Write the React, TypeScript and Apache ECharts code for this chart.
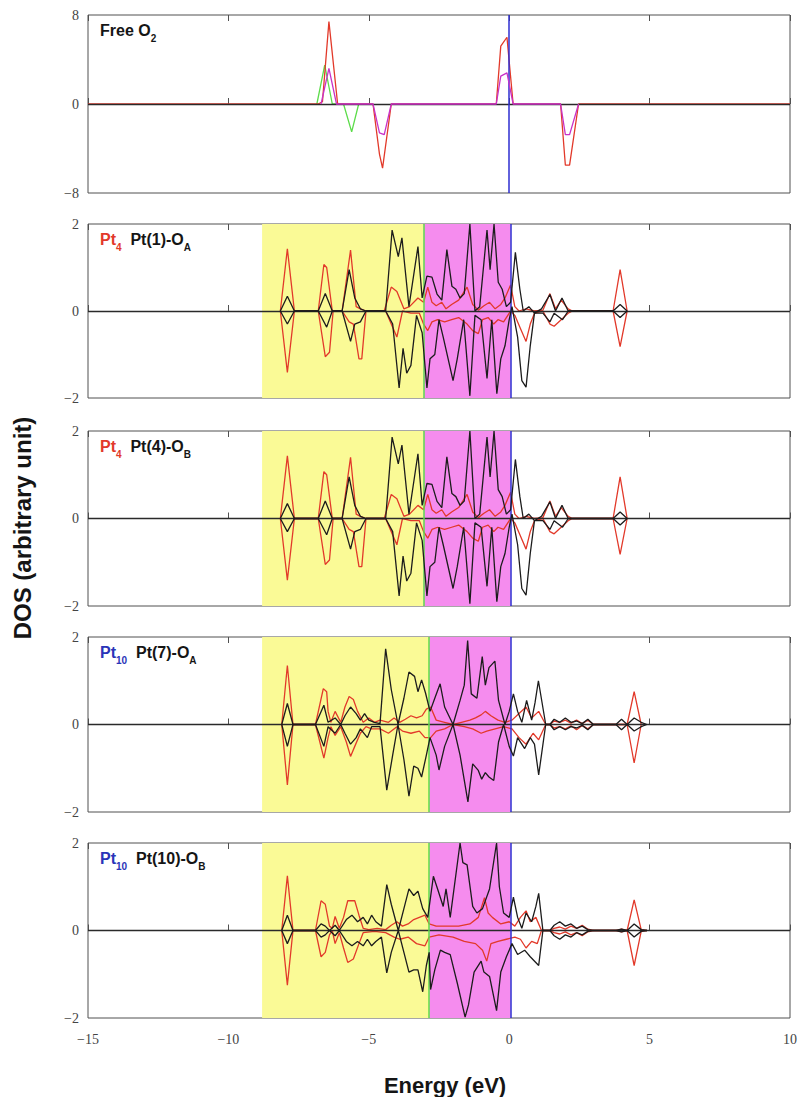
import React, { useEffect, useRef } from "react";
import * as echarts from "echarts";

// ---------- data ----------
const xTicks = [-15, -10, -5, 0, 5, 10];
const panelTops = [15, 224, 431, 637, 843];
const panelHeights = [178, 174, 175, 175, 175];
const yLimits = [8, 2, 2, 2, 2];

// band edges (eV): yellow start, yellow/magenta boundary, Fermi level
const bandStart = [null, -8.8, -8.8, -8.8, -8.8];
const bandMid = [null, -3.05, -3.05, -2.85, -2.85];
const fermiLine = [0, 0.05, 0.05, 0.05, 0.05];

// Free O2
const o2Red = [[-15,0],[-6.8,0],[-6.65,0.2],[-6.42,7.4],[-6.11,0],[-4.85,0],[-4.62,-4.5],[-4.51,-5.76],[-4.2,0],[-0.46,0],[-0.3,5.2],[-0.08,6.0],[0.14,0],[1.83,0],[2.0,-5.5],[2.15,-5.5],[2.47,0],[10,0]];
const o2Green = [[-6.85,0],[-6.57,3.5],[-6.3,0],[-5.9,0],[-5.61,-2.5],[-5.36,0]];
const o2Magenta = [[-6.7,0],[-6.42,3.2],[-6.15,0],[-4.85,0],[-4.62,-2.6],[-4.45,-2.75],[-4.2,0],[-0.46,0],[-0.3,2.5],[-0.08,2.8],[0.14,0],[1.83,0],[2.0,-2.75],[2.15,-2.75],[2.47,0]];

// Pt4 Pt(1)-OA
const p2RedUp = [[-8.15,0],[-7.9,1.43],[-7.65,0],[-6.8,0],[-6.6,1.07],[-6.5,1.0],[-6.3,0],[-5.95,0],[-5.65,1.4],[-5.45,0.1],[-5.3,0.05],[-5.1,0],[-4.45,0],[-4.2,0.55],[-4.0,0.45],[-3.75,0.05],[-3.55,0.1],[-3.25,0.3],[-3.05,0.2],[-2.9,0.55],[-2.75,0.2],[-2.6,0.12],[-2.4,0.2],[-2.25,0.05],[-2.05,0.15],[-1.8,0.25],[-1.5,0.55],[-1.3,0.15],[-1.1,0.02],[-0.9,0.12],[-0.7,0.2],[-0.5,0.05],[-0.3,0.15],[-0.15,0.3],[0.05,0.6],[0.2,0.1],[0.35,0],[0.6,0.05],[0.9,0],[1.2,0.02],[1.45,0.4],[1.65,0.05],[1.85,0.25],[2.1,0.05],[2.25,0],[3.7,0],[3.95,0.95],[4.2,0]];
const p2RedDown = [[-8.15,0],[-7.9,-1.41],[-7.65,0],[-6.8,0],[-6.55,-1.05],[-6.4,-0.95],[-6.27,0],[-5.95,0],[-5.7,-0.25],[-5.55,-0.3],[-5.35,-1.1],[-5.25,-1.1],[-5.1,0],[-4.4,0],[-4.2,-0.3],[-4.0,-0.6],[-3.8,0],[-3.5,-0.05],[-3.2,-0.05],[-3.05,-0.3],[-2.9,-0.45],[-2.75,-0.25],[-2.55,-0.2],[-2.3,-0.25],[-2.05,-0.2],[-1.8,-0.15],[-1.5,-0.3],[-1.3,-0.45],[-1.1,-0.52],[-0.95,-0.2],[-0.75,-0.15],[-0.55,-0.3],[-0.4,-0.2],[-0.2,-0.25],[0.05,0],[0.2,-0.1],[0.4,-0.4],[0.6,-0.7],[0.75,-0.3],[0.9,-0.05],[1.2,0],[1.45,-0.3],[1.6,-0.35],[1.85,-0.2],[2.1,-0.05],[2.25,0],[3.7,0],[3.95,-0.82],[4.2,0]];
const p2BlackUp = [[-8.15,0],[-7.9,0.34],[-7.65,0],[-6.8,0],[-6.55,0.4],[-6.3,0],[-5.95,0],[-5.7,0.95],[-5.5,0.3],[-5.3,0.05],[-5.1,0],[-4.4,0],[-4.17,1.86],[-3.95,1.25],[-3.82,1.68],[-3.57,0.1],[-3.25,1.48],[-3.1,0.3],[-2.93,0.8],[-2.75,0.78],[-2.57,0.39],[-2.4,0.25],[-2.22,1.41],[-2.04,0.57],[-1.9,0.5],[-1.75,0.3],[-1.6,0.4],[-1.4,2.0],[-1.22,0],[-1.05,0.1],[-0.79,1.86],[-0.68,0.95],[-0.54,2.0],[-0.39,0.66],[-0.25,0.5],[-0.1,0.1],[0.05,0.2],[0.22,1.35],[0.38,0.5],[0.5,0],[0.7,0.1],[0.9,-0.05],[1.15,0.05],[1.45,0.38],[1.65,0],[1.88,0.3],[2.1,0],[2.25,0],[3.7,0],[3.95,0.15],[4.2,0]];
const p2BlackDown = [[-8.15,0],[-7.9,-0.3],[-7.65,0],[-6.8,0],[-6.5,-0.37],[-6.3,0],[-5.95,0],[-5.65,-0.7],[-5.5,-0.3],[-5.3,-0.25],[-5.1,0],[-4.4,0],[-4.15,-0.3],[-3.92,-1.77],[-3.78,-0.86],[-3.65,-1.43],[-3.5,-1.25],[-3.3,-0.1],[-3.1,-0.5],[-2.93,-1.77],[-2.82,-1.1],[-2.65,-1.0],[-2.5,-0.2],[-2.35,-0.6],[-2.0,-1.6],[-1.85,-1.1],[-1.62,-0.2],[-1.4,-1.95],[-1.22,-0.1],[-1.0,-0.2],[-0.79,-1.55],[-0.62,-0.2],[-0.44,-1.9],[-0.3,-1.1],[-0.15,-0.8],[0.0,-0.2],[0.1,0.1],[0.3,-0.6],[0.45,-1.6],[0.6,-1.75],[0.75,-0.8],[0.9,-0.05],[1.2,-0.05],[1.45,-0.25],[1.6,-0.05],[1.9,-0.2],[2.1,0],[2.25,0],[3.7,0],[3.95,-0.15],[4.2,0]];

// Pt4 Pt(4)-OB (nearly identical to Pt(1)-OA)
const p3RedUp = p2RedUp;
const p3RedDown = p2RedDown;
const p3BlackUp = p2BlackUp;
const p3BlackDown = p2BlackDown;

// Pt10 Pt(7)-OA
const p4RedUp = [[-8.1,0],[-7.9,1.35],[-7.7,0],[-6.9,0],[-6.62,0.82],[-6.5,0.75],[-6.45,0.3],[-6.35,0.05],[-6.2,0.3],[-6.0,0.05],[-5.85,0.4],[-5.7,0.64],[-5.55,0.57],[-5.4,0.3],[-5.2,0.05],[-5.0,0.15],[-4.8,0.05],[-4.6,0.1],[-4.3,0.05],[-4.1,0.15],[-3.9,0.05],[-3.7,0.12],[-3.5,0.2],[-3.3,0.15],[-3.1,0.2],[-2.95,0.35],[-2.8,0.4],[-2.6,0.1],[-2.3,0.05],[-2.0,0],[-1.7,0.05],[-1.4,0.1],[-1.2,0.15],[-1.0,0.22],[-0.85,0.3],[-0.65,0.2],[-0.4,0.1],[-0.15,0.05],[0.1,0.1],[0.35,0.25],[0.6,0.4],[0.8,0.15],[1.05,0.3],[1.3,0],[1.45,0],[1.6,0.08],[1.8,0.05],[2.0,0.1],[2.2,0.03],[2.4,0.1],[2.6,0.02],[2.8,0.1],[3.0,0],[4.2,0],[4.45,0.75],[4.7,0]];
const p4RedDown = [[-8.1,0],[-7.9,-1.38],[-7.7,0],[-6.9,0],[-6.6,-0.77],[-6.45,-0.3],[-6.35,-0.05],[-6.2,-0.25],[-6.0,-0.05],[-5.8,-0.4],[-5.65,-0.73],[-5.5,-0.5],[-5.3,-0.2],[-5.1,-0.05],[-4.9,-0.1],[-4.6,-0.1],[-4.3,-0.2],[-4.0,-0.05],[-3.8,-0.15],[-3.5,-0.2],[-3.2,-0.15],[-3.0,-0.3],[-2.8,-0.3],[-2.6,-0.15],[-2.3,-0.1],[-2.0,0],[-1.6,-0.05],[-1.3,-0.1],[-1.0,-0.2],[-0.8,-0.15],[-0.5,-0.1],[-0.2,-0.05],[0.1,-0.1],[0.35,-0.3],[0.6,-0.45],[0.85,-0.2],[1.05,-0.35],[1.3,0],[1.45,0],[1.6,-0.08],[1.8,-0.05],[2.0,-0.1],[2.2,-0.03],[2.4,-0.12],[2.6,-0.02],[2.8,-0.1],[3.0,0],[4.2,0],[4.45,-0.88],[4.7,0]];
const p4BlackUp = [[-8.1,0],[-7.9,0.48],[-7.7,0],[-6.9,0],[-6.6,0.44],[-6.45,0.05],[-6.2,0.15],[-6.0,0],[-5.85,0.2],[-5.65,0.4],[-5.45,0.25],[-5.3,0.1],[-5.15,0.25],[-5.0,0.1],[-4.8,0.05],[-4.6,0.02],[-4.4,1.73],[-4.2,0.8],[-3.96,0],[-3.75,0.6],[-3.57,1.2],[-3.37,1.1],[-3.25,0.75],[-3.12,1.02],[-2.98,0.72],[-2.82,0.3],[-2.65,0.6],[-2.46,0.93],[-2.3,0.4],[-2.0,0],[-1.75,0.55],[-1.6,0.9],[-1.48,1.92],[-1.35,0.7],[-1.15,0.6],[-0.96,1.55],[-0.85,0.9],[-0.72,1.3],[-0.51,1.45],[-0.38,0.55],[-0.15,0],[0.0,0.3],[0.15,0.7],[0.3,0.3],[0.45,0.05],[0.62,0.55],[0.8,0.1],[0.92,0.5],[1.04,1.0],[1.3,0],[1.45,0],[1.6,0.12],[1.8,0.05],[2.0,0.15],[2.2,0.05],[2.4,0.08],[2.6,0.02],[2.8,0.12],[3.0,0],[3.8,0],[4.0,0.12],[4.2,0],[4.45,0.15],[4.7,0.05],[4.9,0]];
const p4BlackDown = [[-8.1,0],[-7.9,-0.5],[-7.7,0],[-6.9,0],[-6.6,-0.5],[-6.45,-0.05],[-6.2,-0.2],[-6.0,0],[-5.85,-0.2],[-5.65,-0.45],[-5.45,-0.3],[-5.3,-0.1],[-5.05,-0.3],[-4.9,-0.05],[-4.6,-0.05],[-4.36,-1.5],[-4.15,-0.7],[-3.96,0],[-3.75,-0.8],[-3.57,-1.64],[-3.4,-0.95],[-3.25,-1.0],[-3.12,-1.2],[-2.95,-0.7],[-2.82,-0.3],[-2.6,-0.7],[-2.5,-1.04],[-2.3,-0.5],[-2.0,0],[-1.75,-0.7],[-1.47,-1.77],[-1.3,-0.9],[-1.1,-1.05],[-0.98,-1.25],[-0.85,-1.1],[-0.72,-1.2],[-0.55,-1.28],[-0.38,-0.4],[-0.2,0],[0.0,-0.5],[0.15,-0.72],[0.3,-0.3],[0.55,-0.55],[0.75,-0.3],[0.9,-0.45],[1.05,-1.15],[1.3,0],[1.45,0],[1.6,-0.12],[1.8,-0.05],[2.0,-0.12],[2.2,-0.05],[2.4,-0.08],[2.6,-0.02],[2.8,-0.12],[3.0,0],[3.8,0],[4.0,-0.12],[4.2,0],[4.45,-0.15],[4.7,-0.05],[4.9,0]];

// Pt10 Pt(10)-OB
const p5RedUp = [[-8.1,0],[-7.9,1.25],[-7.7,0],[-6.9,0],[-6.7,0.68],[-6.55,0.6],[-6.4,0.1],[-6.3,0.05],[-6.2,0.32],[-6.05,0.05],[-5.9,0.3],[-5.75,0.68],[-5.5,0.68],[-5.35,0.35],[-5.2,0.05],[-5.0,0.02],[-4.7,0.05],[-4.4,0.02],[-4.2,0.12],[-4.0,0.2],[-3.8,0.1],[-3.6,0.15],[-3.4,0.25],[-3.2,0.3],[-3.0,0.35],[-2.85,0.15],[-2.6,0.1],[-2.2,0.1],[-1.8,0.1],[-1.4,0.15],[-1.1,0.3],[-0.88,0.75],[-0.75,0.4],[-0.6,0.3],[-0.3,0.15],[0.0,0.2],[0.2,0.1],[0.4,0.3],[0.6,0.45],[0.75,0.2],[0.95,0.3],[1.15,0],[1.45,0],[1.6,0.05],[1.8,0.08],[2.0,0.03],[2.2,0.1],[2.4,0.05],[2.6,0.12],[2.8,0.03],[3.0,0],[3.8,0],[4.0,0.03],[4.2,0],[4.45,0.7],[4.7,0.02],[4.9,0]];
const p5RedDown = [[-8.1,0],[-7.9,-1.25],[-7.7,0],[-6.9,0],[-6.7,-0.6],[-6.55,-0.5],[-6.4,-0.1],[-6.3,0],[-6.2,-0.3],[-6.05,-0.05],[-5.9,-0.4],[-5.75,-0.73],[-5.55,-0.65],[-5.35,-0.3],[-5.2,-0.05],[-4.8,-0.02],[-4.4,-0.05],[-4.1,-0.15],[-3.9,-0.2],[-3.6,-0.15],[-3.3,-0.3],[-3.0,-0.35],[-2.85,-0.15],[-2.5,-0.1],[-2.0,-0.15],[-1.6,-0.25],[-1.2,-0.3],[-0.95,-0.45],[-0.8,-0.7],[-0.65,-0.3],[-0.4,-0.25],[-0.1,-0.2],[0.2,-0.15],[0.4,-0.2],[0.6,-0.4],[0.8,-0.25],[1.0,-0.3],[1.15,0],[1.45,0],[1.6,-0.05],[1.8,-0.08],[2.0,-0.03],[2.2,-0.1],[2.4,-0.05],[2.6,-0.12],[2.8,-0.03],[3.0,0],[3.8,0],[4.0,-0.03],[4.2,0],[4.45,-0.8],[4.7,-0.02],[4.9,0]];
const p5BlackUp = [[-8.1,0],[-7.9,0.35],[-7.7,0],[-6.9,0],[-6.7,0.15],[-6.55,0.1],[-6.4,0],[-6.2,0.12],[-6.05,0],[-5.8,0.25],[-5.6,0.35],[-5.4,0.2],[-5.2,0.3],[-5.05,0.15],[-4.9,0.35],[-4.75,0.2],[-4.55,0.1],[-4.36,1.05],[-4.2,0.6],[-3.95,0],[-3.75,0.5],[-3.57,0.95],[-3.4,0.8],[-3.25,0.9],[-3.08,0.5],[-2.9,0.3],[-2.7,1.24],[-2.55,0.95],[-2.35,0.55],[-2.25,0.95],[-2.1,0.3],[-1.75,2.0],[-1.65,1.55],[-1.5,1.5],[-1.3,0.55],[-1.15,0.4],[-0.95,0.5],[-0.7,0.95],[-0.45,2.0],[-0.35,1.0],[-0.2,0.4],[0.0,0.3],[0.15,0.76],[0.3,0.3],[0.45,0.05],[0.6,0.4],[0.8,0.2],[0.95,0.55],[1.05,0.85],[1.2,0],[1.45,0],[1.6,0.12],[1.8,0.2],[2.0,0.1],[2.2,0.15],[2.4,0.05],[2.6,0.1],[2.8,0.02],[3.0,0],[3.8,0],[4.0,0.03],[4.2,0],[4.45,0.15],[4.7,0.02],[4.9,0]];
const p5BlackDown = [[-8.1,0],[-7.9,-0.3],[-7.7,0],[-6.9,0],[-6.7,-0.15],[-6.55,-0.1],[-6.4,0],[-6.2,-0.12],[-6.05,0],[-5.8,-0.25],[-5.6,-0.35],[-5.4,-0.25],[-5.2,-0.35],[-5.05,-0.2],[-4.9,-0.35],[-4.75,-0.25],[-4.55,-0.15],[-4.36,-0.97],[-4.2,-0.5],[-3.95,0],[-3.75,-0.5],[-3.57,-0.95],[-3.4,-0.9],[-3.25,-0.9],[-3.08,-1.4],[-2.95,-0.8],[-2.85,-0.5],[-2.8,-1.35],[-2.65,-0.9],[-2.45,-0.45],[-2.3,-0.5],[-2.1,-0.55],[-1.85,-1.2],[-1.57,-1.98],[-1.45,-1.7],[-1.25,-0.95],[-1.0,-0.7],[-0.9,-0.95],[-0.7,-1.05],[-0.45,-1.83],[-0.3,-0.95],[-0.1,-0.6],[0.1,-0.3],[0.3,-0.55],[0.55,-0.45],[0.75,-0.6],[1.05,-0.8],[1.2,0],[1.45,0],[1.6,-0.12],[1.8,-0.2],[2.0,-0.1],[2.2,-0.15],[2.4,-0.05],[2.6,-0.1],[2.8,-0.02],[3.0,0],[3.8,0],[4.0,-0.03],[4.2,0],[4.45,-0.15],[4.7,-0.02],[4.9,0]];

const panelLabels = [
  "{k|Free O}{ks|2}",
  "{r|Pt}{rs|4}{k|  Pt(1)-O}{ks|A}",
  "{r|Pt}{rs|4}{k|  Pt(4)-O}{ks|B}",
  "{b|Pt}{bs|10}{k|  Pt(7)-O}{ks|A}",
  "{b|Pt}{bs|10}{k|  Pt(10)-O}{ks|B}",
];

// ---------- styling ----------
const SANS = "'Liberation Sans', Arial, sans-serif";
const SERIF = "'Liberation Serif', 'Times New Roman', serif";
const RED = "#e2392a";
const BLUE_LBL = "#2a34b8";
const BLACK = "#1c1c1c";
const GREEN = "#5cdc4a";
const MAGENTA = "#c832c8";
const YELLOW = "#fafa96";
const PINK = "#f58cee";
const LEFT = 88;
const WIDTH = 702;

const minus = (v: number) => String(v).replace("-", "\u2212");

function tok(fill: string, sub: boolean) {
  return sub
    ? { fontFamily: SANS, fontWeight: "bold", fontSize: 10, fill, lineHeight: 21, verticalAlign: "bottom" }
    : { fontFamily: SANS, fontWeight: "bold", fontSize: 16, fill, lineHeight: 18, verticalAlign: "top" };
}

function buildOption() {
  const grid: any[] = [];
  const xAxis: any[] = [];
  const yAxis: any[] = [];
  const series: any[] = [];
  const graphic: any[] = [];

  const panelData = [
    [
      { d: o2Green, c: GREEN },
      { d: o2Red, c: RED },
      { d: o2Magenta, c: MAGENTA },
    ],
    [
      { d: p2RedUp, c: RED }, { d: p2RedDown, c: RED },
      { d: p2BlackUp, c: BLACK }, { d: p2BlackDown, c: BLACK },
    ],
    [
      { d: p3RedUp, c: RED }, { d: p3RedDown, c: RED },
      { d: p3BlackUp, c: BLACK }, { d: p3BlackDown, c: BLACK },
    ],
    [
      { d: p4RedUp, c: RED }, { d: p4RedDown, c: RED },
      { d: p4BlackUp, c: BLACK }, { d: p4BlackDown, c: BLACK },
    ],
    [
      { d: p5RedUp, c: RED }, { d: p5RedDown, c: RED },
      { d: p5BlackUp, c: BLACK }, { d: p5BlackDown, c: BLACK },
    ],
  ];

  for (let i = 0; i < 5; i++) {
    grid.push({
      left: LEFT, width: WIDTH, top: panelTops[i], height: panelHeights[i],
      show: true, borderColor: "#505050", borderWidth: 1, backgroundColor: "transparent",
    });
    const isLast = i === 4;
    const tickStyle = { show: true, inside: true, length: 6, lineStyle: { color: "#505050", width: 1 } };
    xAxis.push({
      gridIndex: i, type: "value", min: xTicks[0], max: xTicks[xTicks.length - 1], interval: 5,
      position: "bottom", axisLine: { show: false }, splitLine: { show: false },
      axisTick: tickStyle,
      axisLabel: {
        show: isLast, margin: 14, fontFamily: SERIF, fontSize: 14, color: "#444",
        formatter: minus,
      },
    });
    xAxis.push({
      gridIndex: i, type: "value", min: xTicks[0], max: xTicks[xTicks.length - 1], interval: 5,
      position: "top", axisLine: { show: false }, splitLine: { show: false },
      axisTick: tickStyle, axisLabel: { show: false },
    });
    const lim = yLimits[i];
    yAxis.push({
      gridIndex: i, type: "value", min: -lim, max: lim, interval: lim,
      axisLine: { show: false }, splitLine: { show: false }, axisTick: { show: false },
      axisLabel: { margin: 9, fontFamily: SERIF, fontSize: 14, color: "#444", formatter: minus },
    });

    const xIdx = i * 2;
    if (bandStart[i] !== null) {
      series.push({
        type: "line", xAxisIndex: xIdx, yAxisIndex: i, data: [], z: 1, silent: true,
        markArea: {
          silent: true,
          data: [
            [{ xAxis: bandStart[i], itemStyle: { color: YELLOW } }, { xAxis: bandMid[i] }],
            [{ xAxis: bandMid[i], itemStyle: { color: PINK } }, { xAxis: fermiLine[i] }],
          ],
        },
      });
    }
    const lines: any[] = [
      { yAxis: 0, lineStyle: { color: "#2a2a2a", width: 1.3, type: "solid" } },
      { xAxis: fermiLine[i], lineStyle: { color: "#2e2ed0", width: 1.5, type: "solid" } },
    ];
    if (bandMid[i] !== null) {
      lines.push({ xAxis: bandMid[i], lineStyle: { color: GREEN, width: 1.5, type: "solid" } });
    }
    series.push({
      type: "line", xAxisIndex: xIdx, yAxisIndex: i, data: [], z: 2, silent: true,
      markLine: { silent: true, symbol: ["none", "none"], label: { show: false }, data: lines },
    });

    panelData[i].forEach((s, k) => {
      series.push({
        type: "line", xAxisIndex: xIdx, yAxisIndex: i, data: s.d, z: 3 + k,
        showSymbol: false, symbol: "none", smooth: false,
        lineStyle: { color: s.c, width: 1.3 },
      });
    });

    graphic.push({
      type: "text", left: 100, top: panelTops[i] + 7,
      style: {
        text: panelLabels[i],
        rich: {
          k: tok("#151515", false), ks: tok("#151515", true),
          r: tok(RED, false), rs: tok(RED, true),
          b: tok(BLUE_LBL, false), bs: tok(BLUE_LBL, true),
        },
      },
    });
  }

  graphic.push({
    type: "text", x: 22, y: 528, rotation: Math.PI / 2,
    style: {
      text: "DOS (arbitrary unit)", fontFamily: SANS, fontWeight: "bold", fontSize: 24,
      fill: "#151515", align: "center", verticalAlign: "middle",
    },
  });
  graphic.push({
    type: "text", x: 445, y: 1085,
    style: {
      text: "Energy (eV)", fontFamily: SANS, fontWeight: "bold", fontSize: 22,
      fill: "#151515", align: "center", verticalAlign: "middle",
    },
  });

  return { animation: false, backgroundColor: "#ffffff", grid, xAxis, yAxis, series, graphic };
}

export default function App() {
  const ref = useRef<HTMLDivElement>(null);
  useEffect(() => {
    document.body.style.margin = "0";
    if (!ref.current) return;
    const chart = echarts.init(ref.current, undefined, { renderer: "svg" });
    chart.setOption(buildOption() as any);
    return () => chart.dispose();
  }, []);
  return <div ref={ref} style={{ width: 801, height: 1097 }} />;
}
